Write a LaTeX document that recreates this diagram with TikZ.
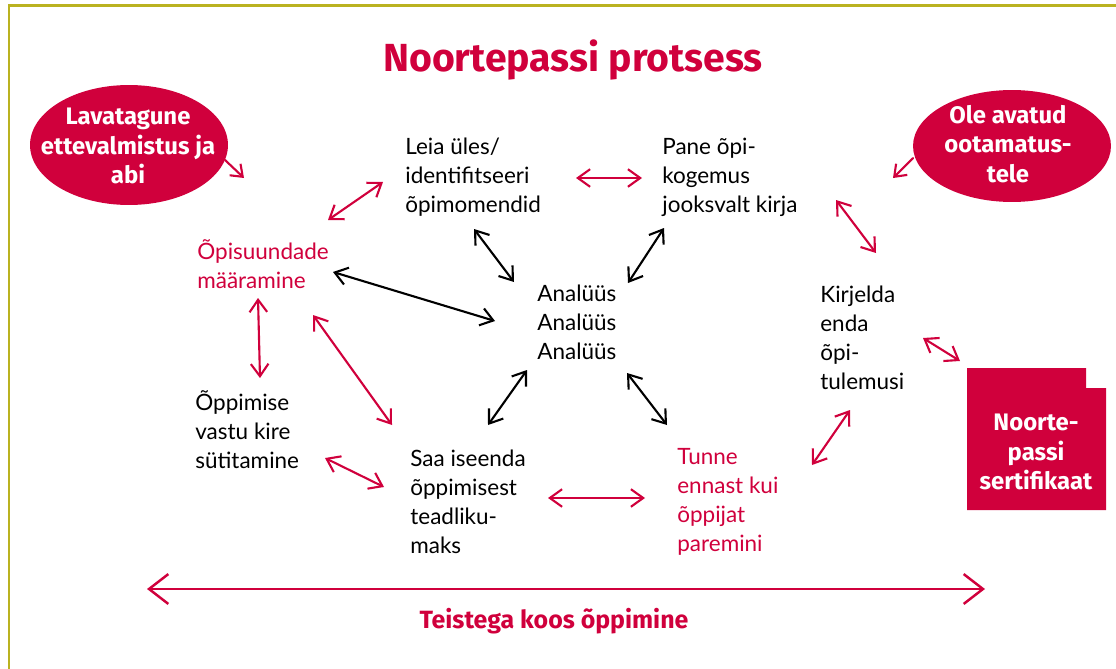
\documentclass[tikz,border=0pt]{standalone}
\usepackage{fontspec}
\setmainfont{Lato}
\newfontfamily\headfont{Fira Sans}
\usetikzlibrary{arrows.meta}
\definecolor{npred}{RGB}{208,0,60}
\definecolor{npolive}{RGB}{186,178,32}
\tikzset{
  body/.style={inner sep=0pt, align=left, anchor=west, font=\fontsize{12.8}{16.5}\selectfont},
  redtxt/.style={body, text=npred},
  whitehead/.style={inner sep=0pt, align=center, text=white, font=\headfont\bfseries\fontsize{13.6}{16.8}\selectfont},
  dbl/.style={line width=1.2pt, line cap=round, {Straight Barb[length=7pt,width=10pt]}-{Straight Barb[length=7pt,width=10pt]}},
  sgl/.style={line width=1.2pt, line cap=round, -{Straight Barb[length=6pt,width=9pt]}},
  redarr/.style={dbl, draw=npred},
  blackarr/.style={dbl, draw=black},
}
\begin{document}
\begin{tikzpicture}[x=0.02cm, y=-0.02cm]
\useasboundingbox (0,0) rectangle (1116,669);
% border
\draw[npolive, line width=1.6pt] (9,669) -- (9,5.5) -- (1116,5.5);
% title
\node[text=npred, font=\headfont\bfseries\fontsize{22.3}{26}\selectfont, inner sep=0pt] (title) at (573,60) {Noortepassi protsess};
% ellipses
\fill[npred] (129,145) ellipse [x radius=1.98cm, y radius=1.2cm];
\node[whitehead] (prep) at (128,146) {Lavatagune\\ettevalmistus ja\\abi};
\fill[npred] (1012,146) ellipse [x radius=1.98cm, y radius=1.12cm];
\node[whitehead] (open) at (1008,144) {Ole avatud\\ootamatus-\\tele};
% certificate
\fill[npred] (967,368) -- (1086,368) -- (1086,388) -- (1106,388) -- (1106,510) -- (967,510) -- cycle;
\node[whitehead] (cert) at (1036,452) {Noorte-\\passi\\sertifikaat};
% text nodes
\node[body] (leia) at (405,177) {Leia üles/\\identifitseeri\\õpimomendid};
\node[body] (pane) at (662,177) {Pane õpi-\\kogemus\\jooksvalt kirja};
\node[redtxt] (opis) at (197,264) {Õpisuundade\\määramine};
\node[body] (anal) at (537,322) {Analüüs\\Analüüs\\Analüüs};
\node[body] (kirj) at (820,338) {Kirjelda\\enda\\õpi-\\tulemusi};
\node[body] (oppi) at (195,430) {Õppimise\\vastu kire\\sütitamine};
\node[body] (saa) at (410,502) {Saa iseenda\\õppimisest\\teadliku-\\maks};
\node[redtxt] (tunne) at (677,502) {Tunne\\ennast kui\\õppijat\\paremini};
\node[text=npred, inner sep=0pt, font=\headfont\bfseries\fontsize{14.2}{17}\selectfont] (koos) at (554,621) {Teistega koos õppimine};
% arrow end points
\coordinate (a1s) at (328,220); \coordinate (a1e) at (383,182);
\coordinate (a2s) at (576,178); \coordinate (a2e) at (642,178);
\coordinate (a3s) at (474,229); \coordinate (a3e) at (514,282);
\coordinate (a4s) at (664,228); \coordinate (a4e) at (628,283);
\coordinate (a5s) at (333,272); \coordinate (a5e) at (495,321);
\coordinate (a6s) at (258,298); \coordinate (a6e) at (260,378);
\coordinate (a7s) at (313,315); \coordinate (a7e) at (392,425);
\coordinate (a8s) at (527,370); \coordinate (a8e) at (488,425);
\coordinate (a9s) at (325,458); \coordinate (a9e) at (384,487);
\coordinate (a10s) at (548,498); \coordinate (a10e) at (645,498);
\coordinate (a11s) at (627,373); \coordinate (a11e) at (667,425);
\coordinate (a12s) at (812,465); \coordinate (a12e) at (850,410);
\coordinate (a13s) at (836,200); \coordinate (a13e) at (876,253);
\coordinate (a14s) at (923,338); \coordinate (a14e) at (960,361);
\coordinate (a15s) at (225,160); \coordinate (a15e) at (244,178);
\coordinate (a16s) at (913,158); \coordinate (a16e) at (893,178);
\coordinate (a17s) at (147,589); \coordinate (a17e) at (985,589);
% arrows
\draw[redarr] (a1s) -- (a1e);
\draw[redarr] (a2s) -- (a2e);
\draw[blackarr] (a3s) -- (a3e);
\draw[blackarr] (a4s) -- (a4e);
\draw[blackarr] (a5s) -- (a5e);
\draw[redarr] (a6s) -- (a6e);
\draw[redarr] (a7s) -- (a7e);
\draw[blackarr] (a8s) -- (a8e);
\draw[redarr] (a9s) -- (a9e);
\draw[redarr] (a10s) -- (a10e);
\draw[blackarr] (a11s) -- (a11e);
\draw[redarr] (a12s) -- (a12e);
\draw[redarr] (a13s) -- (a13e);
\draw[redarr] (a14s) -- (a14e);
\draw[sgl, draw=npred] (a15s) -- (a15e);
\draw[sgl, draw=npred] (a16s) -- (a16e);
\draw[npred, line width=1.4pt, line cap=round, {Straight Barb[length=11pt,width=17pt]}-{Straight Barb[length=11pt,width=17pt]}] (a17s) -- (a17e);
\end{tikzpicture}
\end{document}
